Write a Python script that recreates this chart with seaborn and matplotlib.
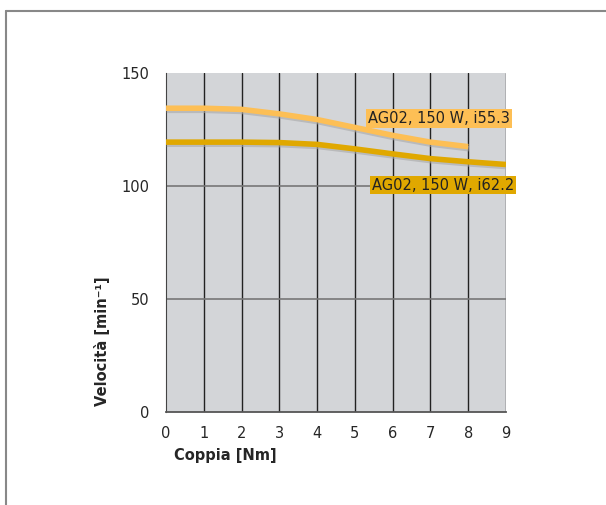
import numpy as np
import pandas as pd
import matplotlib
matplotlib.use('Agg')
import matplotlib.pyplot as plt
import matplotlib.patheffects as pe
import seaborn as sns

# 数据
coppia_a = [0, 1, 2, 3, 4, 5, 6, 7, 8]
vel_a = [134.5, 134.5, 134, 132, 129.5, 126, 122.5, 119.5, 117.5]
coppia_b = [0, 1, 2, 3, 4, 5, 6, 7, 8, 9]
vel_b = [119.5, 119.5, 119.5, 119.3, 118.5, 116.5, 114.3, 112.2, 110.8, 109.6]
label_a = 'AG02, 150 W, i55.3'
label_b = 'AG02, 150 W, i62.2'
x_ticks = list(range(0, 10))
y_ticks = [0, 50, 100, 150]

col_a = '#fdbf55'
col_b = '#e0a800'

df = pd.concat([
    pd.DataFrame({'Coppia': coppia_a, 'Vel': vel_a, 'serie': label_a}),
    pd.DataFrame({'Coppia': coppia_b, 'Vel': vel_b, 'serie': label_b}),
])

sns.set_style('white')
plt.rcParams['font.family'] = ['DejaVu Sans Condensed', 'DejaVu Sans']

fig = plt.figure(figsize=(6.06, 5.05), dpi=100)
ax = fig.add_axes([0.274, 0.184, 0.561, 0.671])
ax.set_facecolor('#d3d5d8')

# 外框
fig.add_artist(plt.Line2D([0.0099, 0.0099], [0, 0.978], color='#888888', lw=1.5))
fig.add_artist(plt.Line2D([0.0099, 1.0], [0.978, 0.978], color='#888888', lw=1.5))

# 网格
for xv in x_ticks[1:]:
    ax.axvline(xv, color='#222222', lw=1.0, zorder=1)
for yv in [50, 100]:
    ax.axhline(yv, color='#777777', lw=1.2, zorder=1)

shadow = [pe.SimpleLineShadow(offset=(0.5, -1.5), shadow_color='#a8a8a8', alpha=0.6), pe.Normal()]
sns.lineplot(data=df, x='Coppia', y='Vel', hue='serie', palette=[col_a, col_b],
             lw=4, legend=False, ax=ax, zorder=3)
for line in ax.get_lines()[-2:]:
    line.set_path_effects(shadow)
    line.set_solid_capstyle('butt')
    line.set_solid_joinstyle('round')

ax.text(5.35, 130, label_a, fontsize=10.5, va='center', ha='left', color='#222222', zorder=5,
        bbox=dict(boxstyle='square,pad=0.12', fc=col_a, ec='none'), clip_on=False)
ax.text(5.45, 100.5, label_b, fontsize=10.5, va='center', ha='left', color='#222222', zorder=5,
        bbox=dict(boxstyle='square,pad=0.12', fc=col_b, ec='none'), clip_on=False)

ax.set_xlim(0, 9)
ax.set_ylim(0, 150)
ax.set_xticks(x_ticks)
ax.set_yticks(y_ticks)
ax.tick_params(axis='x', direction='out', length=6, width=1, color='#222222', labelsize=10.5, pad=4)
ax.tick_params(axis='y', direction='out', length=9, width=1.2, color='#777777', labelsize=10.5, pad=3)
for s in ['top', 'right']:
    ax.spines[s].set_visible(False)
ax.spines['left'].set_color('#444444')
ax.spines['bottom'].set_color('#555555')
ax.spines['bottom'].set_linewidth(1.3)

ax.set_xlabel('Coppia [Nm]', fontsize=10.5, fontweight='bold')
ax.xaxis.set_label_coords(0.175, -0.105)
ax.set_ylabel('Velocità [min⁻¹]', fontsize=10.5, fontweight='bold')
ax.yaxis.set_label_coords(-0.165, 0.21)

fig.savefig('out.png', dpi=100)
